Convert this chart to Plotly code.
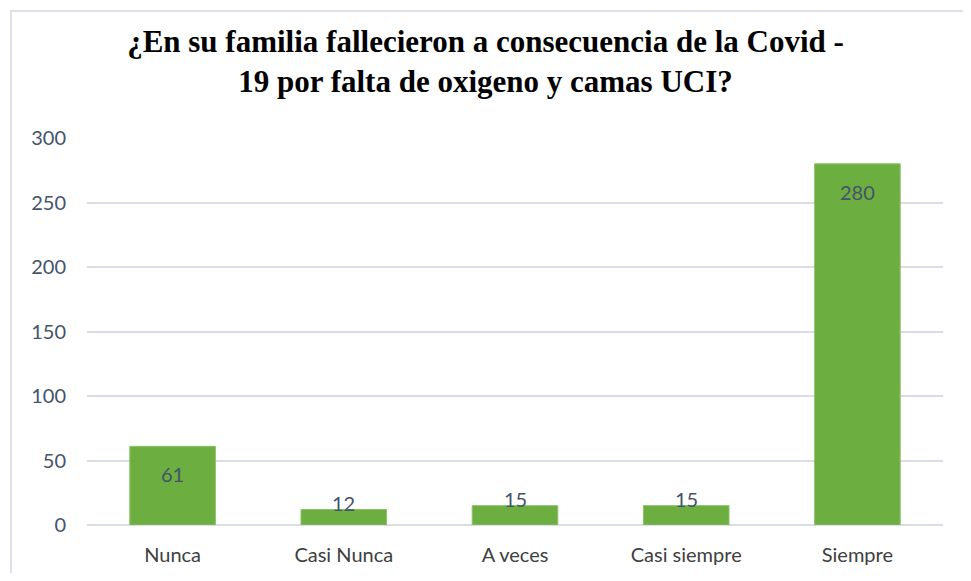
import plotly.graph_objects as go

categories = ["Nunca", "Casi Nunca", "A veces", "Casi siempre", "Siempre"]
values = [61, 12, 15, 15, 280]
y_ticks = [0, 50, 100, 150, 200, 250, 300]

title_text = "¿En su familia fallecieron a consecuencia de la Covid -<br>19 por falta de oxigeno y camas UCI?"

# page body has an 8px margin, so the figure is drawn slightly smaller and offset
OFF = 8
W, H = 971 - 2 * OFF, 581 - 2 * OFF
ml = 87 - OFF
mt = 138 - OFF
mr = W - (943 - OFF)
mb = H - (525 - OFF)

label_font = dict(family="Lato, Open Sans, sans-serif", size=20, color="#44546a")

fig = go.Figure()
fig.add_trace(go.Bar(
    x=categories, y=values,
    marker=dict(color="#6dae41", line=dict(color="#8cc16a", width=1)),
    hoverinfo="skip",
))

for c, v in zip(categories, values):
    inside = v > 40
    fig.add_annotation(x=c, y=v, xref="x", yref="y", text=str(v), showarrow=False,
                       yanchor="middle", yshift=-28 if inside else 7,
                       font=label_font)

pw = W - ml - mr
ph = H - mt - mb
fig.add_shape(type="rect", xref="paper", yref="paper",
              x0=(11 - OFF - ml) / pw, x1=(W + 20 - ml) / pw,
              y0=-(mb + 20) / ph, y1=(H - mb - (11 - OFF)) / ph,
              line=dict(color="#dde2ea", width=2), fillcolor="rgba(0,0,0,0)", layer="below")

fig.update_layout(
    width=W, height=H,
    margin=dict(l=ml, r=mr, t=mt, b=mb, autoexpand=False),
    paper_bgcolor="white", plot_bgcolor="white",
    bargap=0.5,
    showlegend=False,
    title=dict(text=title_text, x=0.5, xanchor="center", xref="container",
               y=1 - (52 - OFF) / H, yanchor="middle", yref="container",
               font=dict(family="Liberation Serif, Times New Roman, serif", size=31, color="#000000",
                         weight="bold")),
    xaxis=dict(showgrid=False, showline=False, zeroline=False, automargin=False,
               ticks="outside", ticklen=12, tickcolor="rgba(0,0,0,0)",
               tickfont=dict(family="Lato, Open Sans, sans-serif", size=20, color="#404040")),
    yaxis=dict(range=[0, 300], tickvals=y_ticks, showgrid=True, gridcolor="#d9dde6", gridwidth=2,
               zeroline=True, zerolinecolor="#d9dde6", zerolinewidth=2, showline=False,
               automargin=False,
               ticks="outside", ticklen=16, tickcolor="rgba(0,0,0,0)",
               tickfont=dict(family="Lato, Open Sans, sans-serif", size=20, color="#44546a")),
)

fig.write_html("out.html")
